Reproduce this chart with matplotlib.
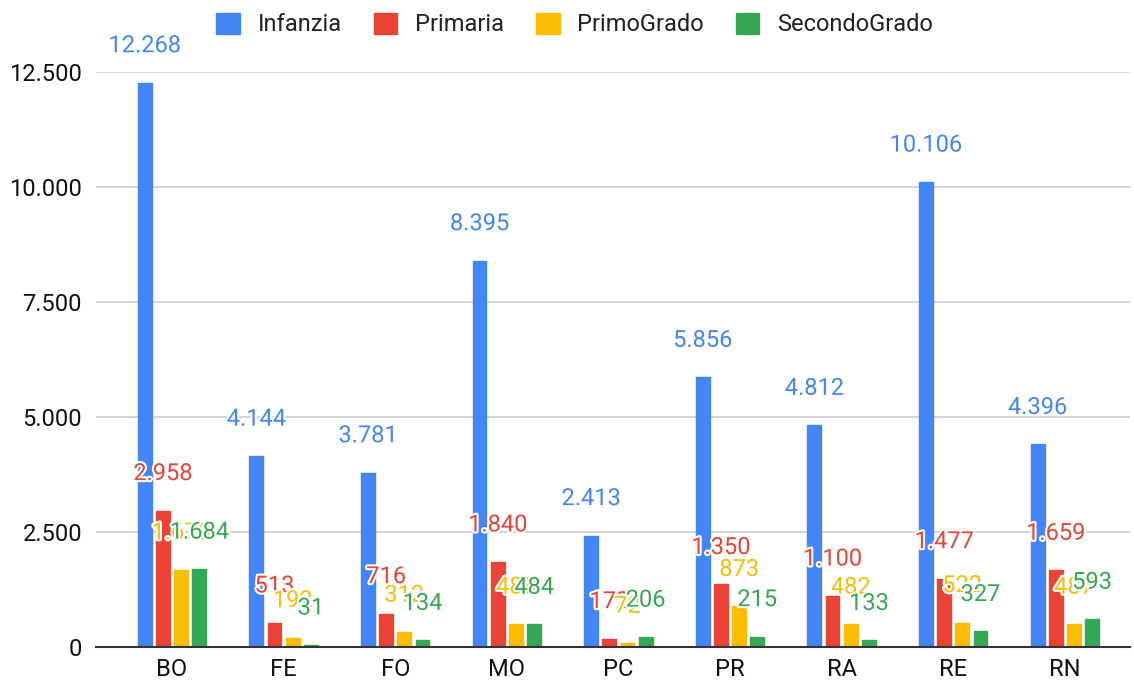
import numpy as np
import matplotlib.pyplot as plt
import matplotlib.patheffects as pe

# 数据
provinces = ['BO', 'FE', 'FO', 'MO', 'PC', 'PR', 'RA', 'RE', 'RN']
infanzia = [12268, 4144, 3781, 8395, 2413, 5856, 4812, 10106, 4396]
primaria = [2958, 513, 716, 1840, 172, 1350, 1100, 1477, 1659]
primo_grado = [1670, 192, 312, 488, 72, 873, 482, 522, 487]
secondo_grado = [1684, 31, 134, 484, 206, 215, 133, 327, 593]

series_names = ['Infanzia', 'Primaria', 'PrimoGrado', 'SecondoGrado']
series_vals = [infanzia, primaria, primo_grado, secondo_grado]
colors = ['#4285F4', '#EA4335', '#FBBC04', '#34A853']
yticks = [0, 2500, 5000, 7500, 10000, 12500]


def fmt_it(v):
    return f"{int(v):,}".replace(',', '.')


plt.rcParams['font.family'] = ['Roboto', 'DejaVu Sans']

fig = plt.figure(figsize=(11.34, 6.82), dpi=100)
ax = fig.add_axes([96 / 1134, 1 - 646.5 / 682, (1130 - 96) / 1134, (646.5 - 72) / 682])

x = np.arange(len(provinces))
width = 0.125
step = 0.163

for k, (name, vals, c) in enumerate(zip(series_names, series_vals, colors)):
    pos = x + (k - 1.5) * step
    ax.bar(pos, vals, width, color=c, label=name, zorder=3,
           edgecolor=c, linewidth=1.0, joinstyle='round')
    for xp, v in zip(pos, vals):
        ax.annotate(fmt_it(v), (xp, v), xytext=(0, 26.6), textcoords='offset points',
                    ha='center', va='center', fontsize=17, color=c, zorder=5,
                    annotation_clip=False,
                    path_effects=[pe.withStroke(linewidth=3, foreground='white')])

ax.set_xlim(-0.681, 8.584)
ax.set_ylim(0, 12500)
ax.set_xticks(x)
ax.set_xticklabels(provinces)
ax.set_yticks(yticks)
ax.set_yticklabels([fmt_it(t) for t in yticks])
ax.tick_params(axis='both', length=0, labelsize=17, colors='#111111')
ax.tick_params(axis='x', pad=8)
ax.tick_params(axis='y', pad=10)

ax.grid(axis='y', color='#cccccc', linewidth=1.2, zorder=0)
ax.set_axisbelow(True)
for s in ['top', 'right', 'left']:
    ax.spines[s].set_visible(False)
ax.spines['bottom'].set_color('#333333')
ax.spines['bottom'].set_linewidth(1.5)
ax.spines['bottom'].set_zorder(4)

ax.legend(loc='upper center', bbox_to_anchor=(0.463, 1.14), ncol=4, frameon=False,
          fontsize=17, handlelength=1.0, handleheight=1.0, columnspacing=1.35,
          handletextpad=0.75, labelcolor='#222222')

plt.savefig('out.png', dpi=100)
plt.close()
